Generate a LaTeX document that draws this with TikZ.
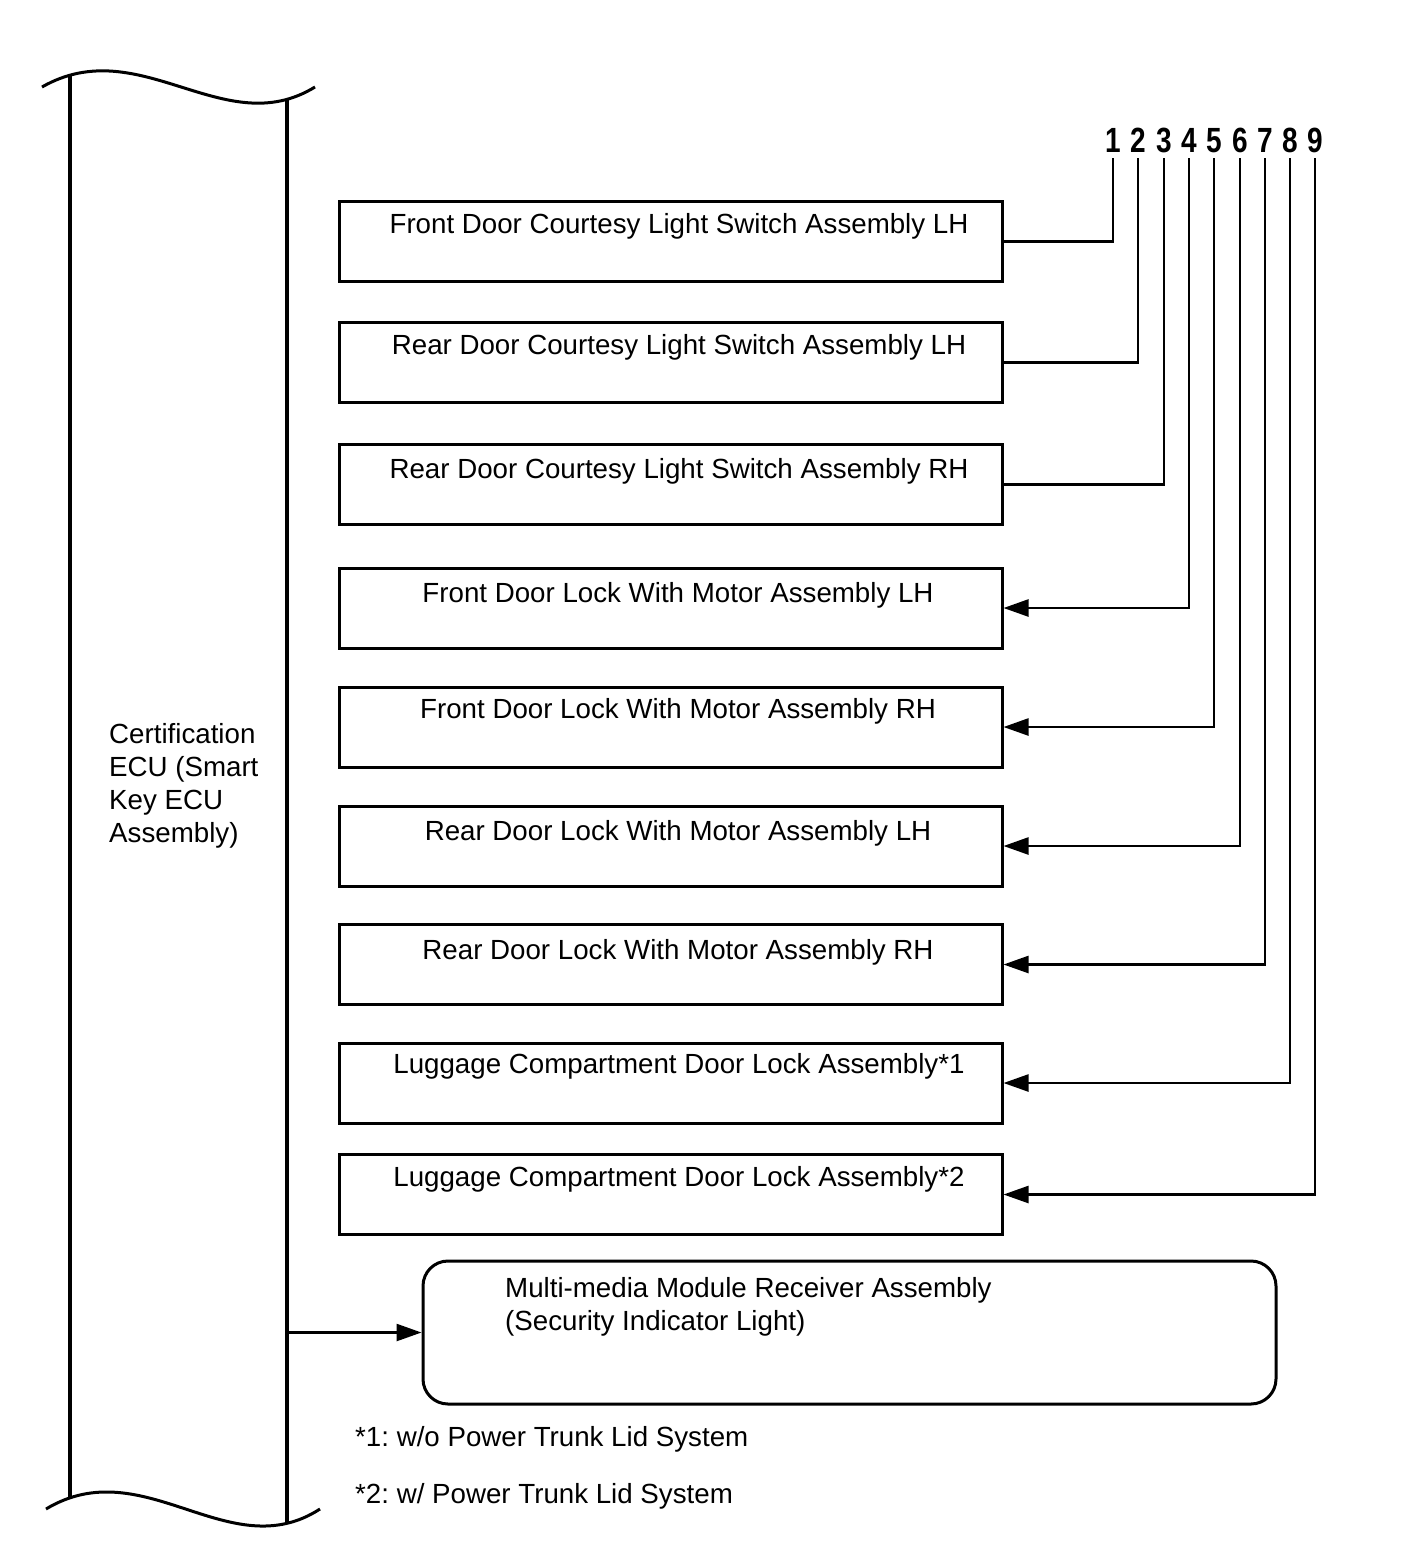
\documentclass[tikz,border=0pt]{standalone}
\usepackage{fontspec}
\setmainfont{Liberation Sans}
\usetikzlibrary{arrows.meta}
\frenchspacing
\begin{document}
\begin{tikzpicture}[x=1pt,y=-1pt,
  box/.style={draw, line width=3pt, minimum width=663pt, minimum height=80pt, inner sep=0pt},
  lbl/.style={font=\fontsize{27.7}{33}\selectfont\frenchspacing, inner sep=0pt},
  num/.style={font=\fontsize{35}{35}\selectfont\bfseries, inner sep=0pt},
  wire/.style={line width=2.5pt},
  arr/.style={wire, -{Triangle[length=25pt,width=17pt]}},
  wave/.style={line width=3pt},
  eculine/.style={line width=4pt},
]
\useasboundingbox (0,0) rectangle (1421,1559);

% ECU column
\draw[wave] (42,87) .. controls (140,31) and (224,143) .. (315,87);
\draw[wave] (46,1509) .. controls (144,1450) and (229,1568) .. (320,1509);
\draw[eculine] (70,76) -- (70,1498);
\draw[eculine] (287,99) -- (287,1523);
\node[lbl, anchor=north west, align=left] (ecu) at (109,723)
  {Certification\\ECU (Smart\\Key ECU\\Assembly)};

% boxes
\node[box] (b1) at (670.5,241.5) {};
\node[box] (b2) at (670.5,362.5) {};
\node[box] (b3) at (670.5,484.5) {};
\node[box] (b4) at (670.5,608) {};
\node[box] (b5) at (670.5,727) {};
\node[box] (b6) at (670.5,846) {};
\node[box] (b7) at (670.5,964.5) {};
\node[box] (b8) at (670.5,1083) {};
\node[box] (b9) at (670.5,1194.5) {};

\node[lbl, anchor=base] (l1) at (679,233) {Front Door Courtesy Light Switch Assembly LH};
\node[lbl, anchor=base] (l2) at (679,354) {Rear Door Courtesy Light Switch Assembly LH};
\node[lbl, anchor=base] (l3) at (679,478) {Rear Door Courtesy Light Switch Assembly RH};
\node[lbl, anchor=base] (l4) at (678,602) {Front Door Lock With Motor Assembly LH};
\node[lbl, anchor=base] (l5) at (678,718) {Front Door Lock With Motor Assembly RH};
\node[lbl, anchor=base] (l6) at (678,840) {Rear Door Lock With Motor Assembly LH};
\node[lbl, anchor=base] (l7) at (678,959) {Rear Door Lock With Motor Assembly RH};
\node[lbl, anchor=base] (l8) at (679,1073) {Luggage Compartment Door Lock Assembly*1};
\node[lbl, anchor=base] (l9) at (679,1186) {Luggage Compartment Door Lock Assembly*2};

% numbers and wire tops
\foreach \i/\x in {1/1113,2/1138,3/1164,4/1189,5/1214,6/1240,7/1265,8/1290,9/1315}{
  \node[num, anchor=base] (n\i) at (\x,152) {\scalebox{0.8}[1]{\i}};
  \coordinate (t\i) at (\x,158);
}

\draw[wire] (b1.east) -| (t1);
\draw[wire] (b2.east) -| (t2);
\draw[wire] (b3.east) -| (t3);
\draw[arr] (t4) |- (b4.east);
\draw[arr] (t5) |- (b5.east);
\draw[arr] (t6) |- (b6.east);
\draw[arr] (t7) |- (b7.east);
\draw[arr] (t8) |- (b8.east);
\draw[arr] (t9) |- (b9.east);

% multimedia
\node[draw, line width=3pt, rounded corners=25pt, minimum width=853pt, minimum height=143pt, inner sep=0pt] (mm) at (849.5,1332.5) {};
\node[lbl, anchor=north west, align=left] (mmt) at (505,1277)
  {Multi-media Module Receiver Assembly\\(Security Indicator Light)};
\coordinate (er) at (287,1332.5);
\draw[arr] (er) -- (mm.west);

% notes
\node[lbl, anchor=base west] (f1) at (355,1446) {*1: w/o Power Trunk Lid System};
\node[lbl, anchor=base west] (f2) at (355,1503) {*2: w/ Power Trunk Lid System};
\end{tikzpicture}
\end{document}
